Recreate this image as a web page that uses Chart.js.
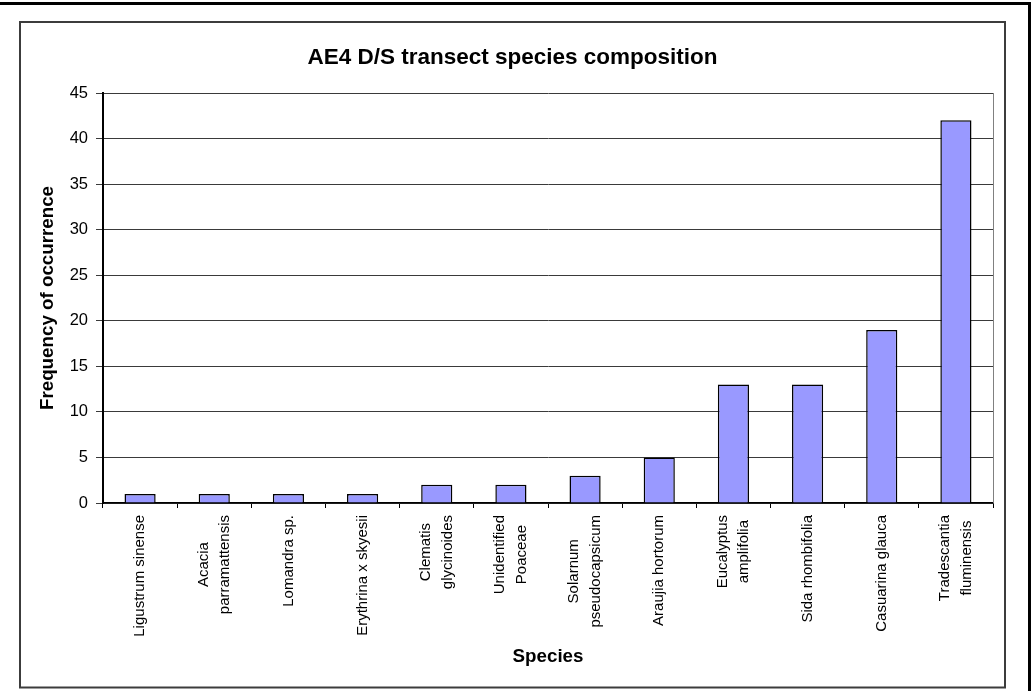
<!DOCTYPE html>
<html>
<head>
<meta charset="utf-8">
<title>AE4 D/S transect species composition</title>
<script src="https://cdn.jsdelivr.net/npm/chart.js@4/dist/chart.umd.min.js"></script>
<style>
  html, body { margin: 0; padding: 0; background: #fff; }
  #wrap { width: 1036px; height: 691px; position: relative; }
  canvas { display: block; }
</style>
</head>
<body>
<div id="wrap"><canvas id="chart" width="1036" height="691"></canvas></div>
<script>
// Species recorded along the transect (each entry is one or more label lines)
const species = [
  ['Ligustrum sinense'],
  ['Acacia', 'parramattensis'],
  ['Lomandra sp.'],
  ['Erythrina x skyesii'],
  ['Clematis', 'glycinoides'],
  ['Unidentified', 'Poaceae'],
  ['Solarnum', 'pseudocapsicum'],
  ['Araujia hortorum'],
  ['Eucalyptus', 'amplifolia'],
  ['Sida rhombifolia'],
  ['Casuarina glauca'],
  ['Tradescantia', 'fluminensis']
];

// Frequency of occurrence per species
const frequency = [1, 1, 1, 1, 2, 2, 3, 5, 13, 13, 19, 42];

// Value axis ticks
const yTicks = [0, 5, 10, 15, 20, 25, 30, 35, 40, 45];

const FONT = '"Liberation Sans", Arial, Helvetica, sans-serif';
Chart.defaults.font.family = FONT;
Chart.defaults.color = '#000';

// Page frames and the plot-area outline on the right
const framePlugin = {
  id: 'frames',
  beforeDraw(chart) {
    const ctx = chart.ctx;
    ctx.save();
    ctx.fillStyle = '#fff';
    ctx.fillRect(0, 0, chart.width, chart.height);
    ctx.restore();
  },
  beforeDatasetsDraw(chart) {
    const { ctx, chartArea } = chart;
    ctx.save();
    ctx.strokeStyle = '#808080';
    ctx.lineWidth = 1;
    ctx.beginPath();
    ctx.moveTo(Math.round(chartArea.right) + 0.5, chartArea.top);
    ctx.lineTo(Math.round(chartArea.right) + 0.5, chartArea.bottom);
    ctx.stroke();
    ctx.restore();
  },
  afterDraw(chart) {
    const ctx = chart.ctx;
    ctx.save();
    // inner chart border
    ctx.strokeStyle = '#3c3c3c';
    ctx.lineWidth = 2;
    ctx.strokeRect(20, 22, 985, 665.5);
    // outer page border
    ctx.strokeStyle = '#000';
    ctx.lineWidth = 3;
    ctx.strokeRect(-10, 3.5, 1039.5, 720);
    ctx.restore();
  }
};

// Vertical category labels, each block centred on its category with
// lines centred against one another and the block's end next to the axis
const verticalLabels = {
  id: 'verticalLabels',
  afterDraw(chart) {
    const ctx = chart.ctx;
    const xs = chart.scales.x;
    const gap = 12;
    const lineStep = 21.5;
    ctx.save();
    ctx.font = '15px ' + FONT;
    ctx.fillStyle = '#000';
    chart.data.labels.forEach((lbl, i) => {
      const lines = Array.isArray(lbl) ? lbl : [lbl];
      const widest = Math.max(...lines.map(t => ctx.measureText(t).width));
      const x = xs.getPixelForTick(i);
      ctx.save();
      ctx.translate(x, xs.top + gap + widest / 2);
      ctx.rotate(-Math.PI / 2);
      ctx.textAlign = 'center';
      ctx.textBaseline = 'middle';
      lines.forEach((t, k) => {
        ctx.fillText(t, 0, (k - (lines.length - 1) / 2) * lineStep);
      });
      ctx.restore();
    });
    ctx.restore();
  }
};

new Chart(document.getElementById('chart'), {
  type: 'bar',
  data: {
    labels: species,
    datasets: [{
      data: frequency,
      backgroundColor: '#9999ff',
      borderColor: '#000',
      borderWidth: 1.5,
      barPercentage: 0.42,
      categoryPercentage: 1.0
    }]
  },
  options: {
    responsive: false,
    animation: false,
    layout: { padding: { left: 32, right: 43, top: 0, bottom: 4 } },
    plugins: {
      legend: { display: false },
      tooltip: { enabled: false },
      title: {
        display: true,
        text: 'AE4 D/S transect species composition',
        color: '#000',
        font: { size: 22.5, weight: 'bold', family: FONT },
        padding: { top: 44.5, bottom: 21.5 }
      }
    },
    scales: {
      x: {
        offset: true,
        grid: {
          display: true,
          offset: true,
          drawOnChartArea: false,
          drawTicks: true,
          tickLength: 5,
          color: '#000',
          lineWidth: 1
        },
        border: { display: true, color: '#000', width: 1.5 },
        ticks: { display: false },
        title: {
          display: true,
          text: 'Species',
          color: '#000',
          font: { size: 18.75, weight: 'bold', family: FONT },
          padding: { top: 0, bottom: 18.75 }
        },
        afterFit(scale) { scale.height = 184; }
      },
      y: {
        min: 0,
        max: 45,
        afterBuildTicks(scale) { scale.ticks = yTicks.map(v => ({ value: v })); },
        grid: {
          color: '#3a3a3a',
          lineWidth: 1,
          drawTicks: true,
          tickLength: 7
        },
        border: { display: true, color: '#000', width: 2 },
        ticks: {
          color: '#000',
          padding: 8,
          font: { size: 16.5, family: FONT }
        },
        title: {
          display: true,
          text: 'Frequency of occurrence',
          color: '#000',
          font: { size: 18.75, weight: 'bold', family: FONT },
          padding: { top: 4.75, bottom: 0 }
        },
        afterFit(scale) { scale.width = 71; }
      }
    }
  },
  plugins: [framePlugin, verticalLabels]
});
</script>
</body>
</html>
